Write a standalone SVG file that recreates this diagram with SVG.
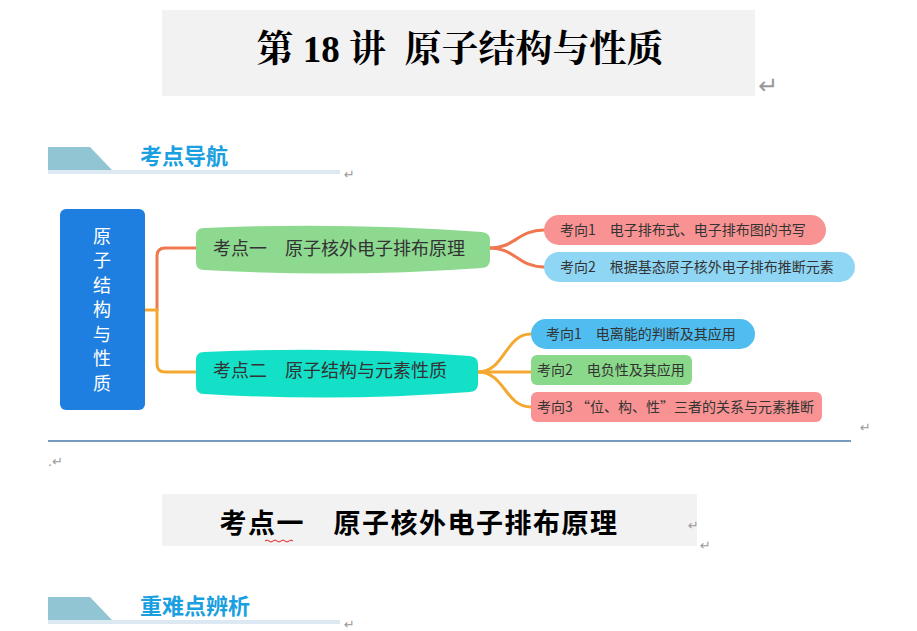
<svg xmlns="http://www.w3.org/2000/svg" width="917" height="631" viewBox="0 0 917 631">
<style>
.cn{font-family:"Noto Sans CJK SC","Liberation Sans",sans-serif}
.t{font-family:"Liberation Serif","Noto Serif CJK SC","Noto Sans CJK SC",serif;font-weight:bold;fill:#000}
.ret{font-family:"DejaVu Sans",sans-serif;font-size:13px;fill:#999}
.sec{font-family:"Noto Sans CJK SC",sans-serif;font-weight:bold;font-size:22px;fill:#1aa0e0}
.leaf{font-family:"Noto Sans CJK SC",sans-serif;font-size:14px;fill:#333}
.mid{font-family:"Noto Sans CJK SC",sans-serif;font-size:18px;fill:#333}
.c{fill:none;stroke-width:3;stroke-linecap:round}
</style>
<rect width="917" height="631" fill="#fff"/>
<g id="title">
<rect x="162" y="10" width="593" height="86" fill="#f2f2f2"/>
<text x="460" y="62" text-anchor="middle" class="t" font-size="37" xml:space="preserve">第 18 讲  原子结构与性质</text>
<text x="758" y="94" class="ret" style="font-size:24px">↵</text>
</g>
<g id="sec1">
<polygon points="48,147 90,147 112,170 48,170" fill="#92c5d4"/>
<rect x="48" y="170" width="292" height="4" fill="#dce8f2"/>
<text x="140" y="164" class="sec">考点导航</text>
<text x="344" y="179" class="ret">↵</text>
</g>
<g id="connectors">
<path class="c" stroke="#f07850" d="M157,310 V256 Q157,248 165,248 H196"/>
<path class="c" stroke="#f5a830" d="M145,310 H157 V364 Q157,372 165,372 H196"/>
<path class="c" stroke="#f07850" d="M490,248 C515,248 518,230 544,230"/>
<path class="c" stroke="#f07850" d="M490,248 C515,248 518,267 544,267"/>
<path class="c" stroke="#f5a830" d="M478,372 C505,372 505,334 531,334"/>
<path class="c" stroke="#f5a830" d="M478,372 H531"/>
<path class="c" stroke="#f5a830" d="M478,372 C505,372 505,407 531,407"/>
</g>
<g id="root">
<rect x="60" y="209" width="85" height="201" rx="6" fill="#1f7fe0"/>
<g class="cn" font-size="18" fill="#fff" text-anchor="middle">
<text x="102" y="243">原</text><text x="102" y="267">子</text><text x="102" y="292">结</text><text x="102" y="316">构</text><text x="102" y="341">与</text><text x="102" y="365">性</text><text x="102" y="390">质</text>
</g>
</g>
<g id="n1">
<path d="M204,228 Q343,222 482,232 Q490,233 490,240 V260 Q490,267 482,268 Q343,278 204,270 Q196,270 196,262 V236 Q196,228 204,228Z" fill="#8cd98f"/>
<text x="213" y="255" class="mid">考点一　原子核外电子排布原理</text>
</g>
<g id="n2">
<path d="M204,352 Q337,346 470,356 Q478,357 478,364 V384 Q478,391 470,392 Q337,402 204,394 Q196,394 196,386 V360 Q196,352 204,352Z" fill="#14e0c8"/>
<text x="213" y="377" class="mid">考点二　原子结构与元素性质</text>
</g>
<g id="l1"><rect x="544" y="215" width="282" height="30" rx="15" fill="#f99393"/><text x="560" y="235" class="leaf">考向1　电子排布式、电子排布图的书写</text></g>
<g id="l2"><rect x="544" y="252" width="311" height="30" rx="15" fill="#8fd6f5"/><text x="560" y="272" class="leaf">考向2　根据基态原子核外电子排布推断元素</text></g>
<g id="l3"><rect x="531" y="319" width="224" height="30" rx="15" fill="#4fbdf0"/><text x="546" y="339" class="leaf">考向1　电离能的判断及其应用</text></g>
<g id="l4"><rect x="531" y="355" width="161" height="30" rx="6" fill="#8ad98a"/><text x="537" y="375" class="leaf">考向2　电负性及其应用</text></g>
<g id="l5"><rect x="531" y="392" width="291" height="30" rx="6" fill="#f99393"/><text x="537" y="412" class="leaf">考向3 “位、构、性”三者的关系与元素推断</text></g>
<line x1="48" y1="441" x2="851" y2="441" stroke="#4a7aa8" stroke-width="1.5"/>
<text x="860" y="432" class="ret">↵</text>
<text x="48" y="466" class="ret" fill="#666">.↵</text>
<g id="title2">
<rect x="162" y="494" width="535" height="52" fill="#f2f2f2"/>
<text x="419" y="533" text-anchor="middle" class="cn" font-weight="bold" font-size="27" letter-spacing="1.5" fill="#000">考点一　原子核外电子排布原理</text>
<path d="M265,541 q2,-2 4,0 t4,0 t4,0 t4,0 t4,0 t4,0 t4,0" fill="none" stroke="#e02020" stroke-width="1"/>
<text x="688" y="530" class="ret">↵</text>
<text x="700" y="550" class="ret">↵</text>
</g>
<g id="sec2">
<polygon points="48,597 90,597 112,620 48,620" fill="#92c5d4"/>
<rect x="48" y="620" width="292" height="4" fill="#dce8f2"/>
<text x="140" y="614" class="sec">重难点辨析</text>
<text x="344" y="629" class="ret">↵</text>
</g>
</svg>
